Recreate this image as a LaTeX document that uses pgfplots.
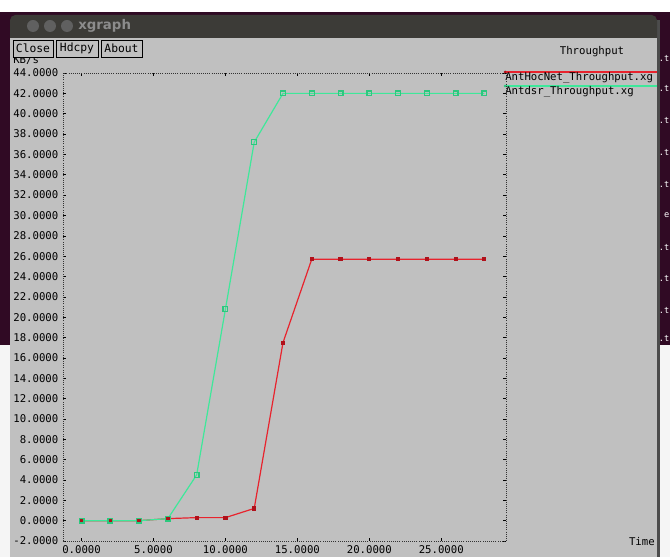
\documentclass[border=0pt]{standalone}
\usepackage{fontspec}
\setmainfont{DejaVu Sans Mono}
\newfontfamily\wmfont{DejaVu Sans}
\usepackage{pgfplots}
\pgfplotsset{compat=1.18}
\definecolor{termbg}{HTML}{300A24}
\definecolor{winbg}{HTML}{C0C0C0}
\definecolor{titlebar}{HTML}{3C3B37}
\definecolor{xgred}{HTML}{E8232D}
\definecolor{xgredmark}{HTML}{B0101A}
\definecolor{xggreen}{HTML}{3EE89A}
\definecolor{xggreenmark}{HTML}{2CC87E}
\newcommand\tickfont{\fontsize{8}{9}\selectfont}

\begin{document}
\begin{tikzpicture}
% screen and window, in pixels (y down)
\begin{scope}[x=0.75pt,y=-0.75pt]
  \useasboundingbox (0,0) rectangle (670,557);
  \fill[white] (0,0) rectangle (670,557);
  \fill[termbg] (0,12) rectangle (670,345);
  \fill[gray!8] (0,345) rectangle (10,557);
  \fill[gray!8] (657,345) rectangle (670,557);
  \fill[black!70] (657,20) rectangle (660,557);
  \foreach \yy/\tt in {58/.t,88/.t,120/.t,152/.t,184/.t,215/e,247/.t,278/.t,310/.t,338/.t}
    \node[text=white,anchor=east,inner sep=0pt,font=\fontsize{6.5}{8}\selectfont] at (669.5,\yy) {\tt};
  \fill[titlebar,rounded corners=4pt] (10,15) rectangle (657,45);
  \fill[winbg] (10,38) rectangle (657,557);
  \foreach \cx in {33,50,67}
    \fill[gray!75!black] (\cx,26) circle (6);
  \node[anchor=west,inner sep=0pt,text=gray!90,font=\wmfont\bfseries\fontsize{10}{12}\selectfont] at (78,26) {xgraph};
  % labels
  \node[anchor=west,inner sep=0pt,font=\tickfont] at (13,60) {KB/s};
  \foreach \xa/\xb/\lab in {13/53/Close,56/98/Hdcpy,101/142/About}{
    \filldraw[fill=winbg,draw=black,line width=0.6pt] (\xa,40) rectangle (\xb,57);
    \node[inner sep=0pt,font=\fontsize{8.5}{10}\selectfont] at ({(\xa+\xb)/2},48.5) {\lab};
  }
  \node[inner sep=0pt,font=\tickfont] at (592,52) {Throughput};
  \node[anchor=east,inner sep=0pt,font=\tickfont] at (655,542) {Time};
  % legend
  \draw[xgred,line width=0.9pt] (505,72) -- (657,72);
  \fill[xgredmark] (505,72) circle (1.5);
  \node[anchor=west,inner sep=0pt,font=\tickfont] at (505,78) {AntHocNet\_Throughput.xg};
  \draw[xggreen,line width=0.9pt] (505,86) -- (657,86);
  \fill[xggreenmark] (505,86) circle (1.5);
  \node[anchor=west,inner sep=0pt,font=\tickfont] at (505,92) {Antdsr\_Throughput.xg};
\end{scope}

\begin{axis}[
  at={(47.25pt,-405.75pt)}, anchor=south west,
  scale only axis,
  width=332.25pt, height=351pt,
  xmin=-1.29, xmax=29.5,
  ymin=-2, ymax=44,
  xtick={0,5,...,25},
  ytick={-2,0,...,44},
  tick align=inside,
  major tick length=2.5pt,
  tick style={black, line width=0.4pt},
  axis line style={black!80, densely dotted, line width=0.6pt},
  tick label style={font=\tickfont},
  /pgf/number format/.cd, assume math mode=true, fixed, fixed zerofill, precision=4, 1000 sep={},
]
% AntHocNet (red)
\addplot[xgred, line width=0.9pt, mark=square*, mark size=1.1pt,
  mark options={fill=xgredmark, draw=xgredmark, solid}] coordinates {
  (0,0) (2,0) (4,0) (6,0.2) (8,0.3) (10,0.3) (12,1.2) (14,17.5) (16,25.7)
  (18,25.7) (20,25.7) (22,25.7) (24,25.7) (26,25.7) (28,25.7)
};
% Antdsr (green)
\addplot[xggreen, line width=0.9pt, mark=square, mark size=1.8pt,
  mark options={draw=xggreenmark, solid}] coordinates {
  (0,0) (2,0) (4,0) (6,0.2) (8,4.5) (10,20.8) (12,37.2) (14,42) (16,42)
  (18,42) (20,42) (22,42) (24,42) (26,42) (28,42)
};
\end{axis}
\end{tikzpicture}
\end{document}
